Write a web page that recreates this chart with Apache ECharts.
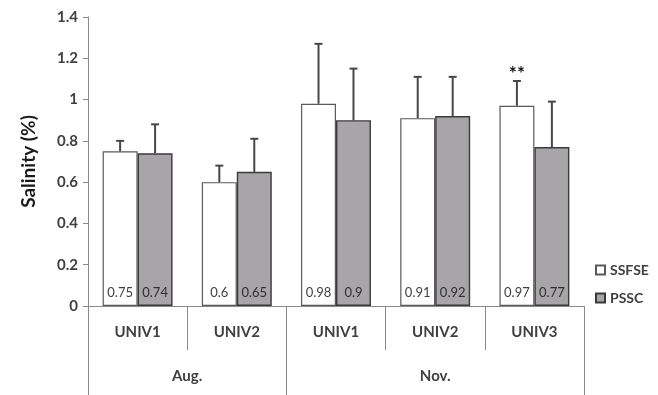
<!DOCTYPE html>
<html><head><meta charset="utf-8">
<script src="https://cdn.jsdelivr.net/npm/echarts@6/dist/echarts.min.js"></script>
<style>html,body{margin:0;padding:0;background:#fff}#c{width:658px;height:395px}</style>
</head><body><div id="c"></div>
<script>
// ---- data ----
const sites = ['UNIV1', 'UNIV2', 'UNIV1', 'UNIV2', 'UNIV3'];
const months = ['Aug.', 'Nov.'];
const monthSpans = [2, 3];
const seriesNames = ['SSFSE', 'PSSC'];
const ssfse = [0.75, 0.6, 0.98, 0.91, 0.97];
const pssc = [0.74, 0.65, 0.9, 0.92, 0.77];
const ssfseErrTop = [0.80, 0.68, 1.27, 1.11, 1.09];
const psscErrTop = [0.88, 0.81, 1.15, 1.11, 0.99];
const ssfseMarks = ['', '', '', '', '**'];
const psscMarks = ['', '', '', '', ''];
const yMin = 0, yMax = 1.4, yStep = 0.2;

// ---- derived month layout ----
const monthBounds = [0];
monthSpans.forEach(s => monthBounds.push(monthBounds[monthBounds.length - 1] + s));
const monthCenters = monthSpans.map((s, i) => monthBounds[i] + s / 2);

const FONT = 'Lato, "Open Sans", sans-serif';
const GAP = 0.295;
const axisGray = '#8a8a8a';

function errSeries(name, vals, tops, side, marks) {
  return {
    type: 'custom', name: name, z: 5, silent: true,
    xAxisIndex: 0, yAxisIndex: 0,
    data: tops.map((v, i) => [i, v]),
    renderItem(params, api) {
      const i = api.value(0), top = api.value(1);
      const band = api.size([1, 0])[0];
      const bw = band * (1 - GAP) / 2;
      const b = api.coord([i, vals[i]]);
      const t = api.coord([i, top]);
      const x = b[0] + side * bw / 2;
      const st = { stroke: '#474747', lineWidth: 2 };
      const children = [
        { type: 'line', shape: { x1: x, y1: b[1], x2: x, y2: t[1] }, style: st },
        { type: 'line', shape: { x1: x - 4, y1: t[1], x2: x + 4, y2: t[1] }, style: st }
      ];
      if (marks[i]) {
        children.push({ type: 'text', style: { text: marks[i], x: x, y: t[1] + 2, align: 'center', verticalAlign: 'bottom', font: 'bold 19px ' + FONT, fill: '#111' } });
      }
      return { type: 'group', children };
    }
  };
}

const chart = echarts.init(document.getElementById('c'));
chart.setOption({
  animation: false,
  backgroundColor: '#fff',
  textStyle: { fontFamily: FONT },
  grid: [
    { left: 88, right: 74, top: 17, bottom: 89 },
    { left: 88, right: 74, top: 17, bottom: 89 }
  ],
  legend: {
    data: seriesNames, orient: 'vertical', left: 590, top: 258,
    icon: 'rect', itemWidth: 9, itemHeight: 9, itemGap: 14, itemTextGap: 3,
    textStyle: { fontSize: 14, color: '#404040', fontWeight: 'bold', fontFamily: FONT }
  },
  xAxis: [
    {
      type: 'category', gridIndex: 0, data: sites, position: 'bottom',
      axisLine: { show: true, lineStyle: { color: axisGray, width: 1 } },
      axisTick: { show: true, alignWithLabel: false, interval: 0, length: 44, lineStyle: { color: axisGray } },
      axisLabel: { interval: 0, margin: 19, fontSize: 15, fontWeight: 'bold', color: '#404040', fontFamily: FONT }
    },
    {
      type: 'value', gridIndex: 1, min: monthBounds[0], max: monthBounds[monthBounds.length - 1], position: 'bottom',
      splitLine: { show: false },
      axisLine: { show: false },
      axisTick: { show: true, customValues: monthBounds, length: 89, lineStyle: { color: axisGray } },
      axisLabel: {
        customValues: monthCenters, margin: 63, fontSize: 15, fontWeight: 'bold', color: '#404040', fontFamily: FONT,
        formatter: v => { const k = monthCenters.findIndex(c => Math.abs(c - v) < 1e-6); return k >= 0 ? months[k] : ''; }
      }
    }
  ],
  yAxis: [
    {
      type: 'value', gridIndex: 0, min: yMin, max: yMax, interval: yStep,
      name: 'Salinity (%)', nameLocation: 'middle', nameGap: 50,
      nameTextStyle: { fontSize: 19, fontWeight: 'bold', color: '#1a1a1a', fontFamily: FONT },
      splitLine: { show: false },
      axisLine: { show: true, lineStyle: { color: axisGray } },
      axisTick: { show: true, length: 5, lineStyle: { color: axisGray } },
      axisLabel: { margin: 10, fontSize: 15, fontWeight: 'bold', color: '#404040', fontFamily: FONT }
    },
    { type: 'value', gridIndex: 1, min: 0, max: 1, show: false }
  ],
  series: [
    {
      name: seriesNames[0], type: 'bar', data: ssfse, barGap: '0%', barCategoryGap: (GAP * 100) + '%',
      itemStyle: { color: '#ffffff', borderColor: '#5a5a5a', borderWidth: 1.2 },
      label: { show: true, position: 'insideBottom', distance: 7, fontSize: 13, color: '#3f3f3f', fontFamily: FONT }
    },
    {
      name: seriesNames[1], type: 'bar', data: pssc, barGap: '0%', barCategoryGap: (GAP * 100) + '%',
      itemStyle: { color: '#a7a5a8', borderColor: '#3a3a3a', borderWidth: 1.4 },
      label: { show: true, position: 'insideBottom', distance: 7, fontSize: 13, color: '#2f2f2f', fontFamily: FONT }
    },
    errSeries('errS', ssfse, ssfseErrTop, -1, ssfseMarks),
    errSeries('errP', pssc, psscErrTop, 1, psscMarks)
  ]
});
</script></body></html>
